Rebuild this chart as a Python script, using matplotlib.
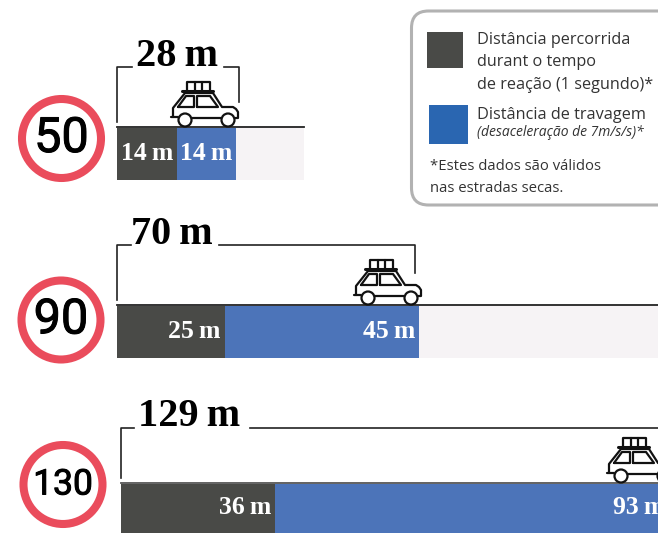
import matplotlib
matplotlib.use("Agg")
import matplotlib.pyplot as plt
import matplotlib.patheffects as pe
from matplotlib.patches import Circle, FancyBboxPatch, Rectangle

# values
speeds = ["50", "90", "130"]
reaction_m = [14, 25, 36]
braking_m = [14, 45, 93]
total_m = [28, 70, 129]

DARK = "#494a47"
BLUE = "#4c74b9"
PALE = "#f6f3f5"
RED = "#ea4c5c"
SERIF = "Liberation Serif"
SANS = "Open Sans"

# layout of each row, in pixels
scale = [4.25, 4.31, 4.28]  # px per metre
bar_x0 = [117, 117, 121]
ground_y = [127, 305, 483]
bar_h = [52, 52, 60]
ground_col = ["#222222", "#222222", "#555555"]
pale_end = [304, 658, 658]
sign_xy = [(61.5, 138.5), (61, 320), (63, 484.5)]
sign_size = [35, 35, 25.5]
bracket_top = [67, 245, 428]
bracket_gap = [(132, 224), (131, 219), (134, 250)]
bracket_right = [239, 415, 700]
bracket_low = [102, 273, 500]
title_x = [177, 172, 189]
title_y = [57, 234, 417]
label_end = [None, 220, 271]
label2_end = [None, 415, 665]
car_left = [171, 354, 607]


def draw_car(ax, left, ground):
    # car outline, drawn relative to its left end and the road
    lw = 1.6
    col = "#111111"
    def line(xs, ys, w=lw):
        ax.plot([left + v for v in xs], [ground + v for v in ys], color=col, lw=w,
                solid_capstyle="round", solid_joinstyle="round", zorder=6)
    # body
    ax.fill([left + v for v in [2, 2, 14, 42, 51, 62, 67, 67, 2]],
            [ground + v for v in [-10, -19, -34, -34, -20, -20, -15, -9, -9]],
            color="white", zorder=5)
    line([2, 2, 14, 42, 51, 62, 65, 67, 67, 64], [-10, -19, -34, -34, -20, -20, -18, -15, -9, -9])
    line([0, 7], [-10, -10])
    line([20, 50], [-9, -9])
    # windows
    line([7, 15, 23, 23, 7], [-20, -31, -31, -20, -20])
    line([26, 26, 39, 47, 26], [-20, -31, -31, -20, -20])
    # roof rack and luggage
    line([11, 42], [-36, -36], 2.2)
    line([16, 16, 39, 39], [-36, -45, -45, -36])
    line([23.5, 23.5], [-45, -36])
    line([31, 31], [-45, -36])
    # wheels
    for cx in [14, 57]:
        ax.add_patch(Circle((left + cx, ground - 7), 6.5, fc="white", ec=col, lw=lw, zorder=7))


fig = plt.figure(figsize=(6.58, 5.33), dpi=100)
ax = fig.add_axes([0, 0, 1, 1])
ax.set_xlim(0, 658)
ax.set_ylim(533, 0)
ax.axis("off")

for i, speed in enumerate(speeds):
    x0 = bar_x0[i]
    g = ground_y[i]
    h = bar_h[i]
    mid = g + 1 + h / 2
    r_w = reaction_m[i] * scale[i]
    b_w = braking_m[i] * scale[i]

    ax.barh(mid, pale_end[i] - x0, left=x0, height=h, color=PALE, zorder=1)
    ax.barh(mid, r_w, left=x0, height=h, color=DARK, zorder=2)
    ax.barh(mid, b_w, left=x0 + r_w, height=h, color=BLUE, zorder=2)
    ax.plot([x0, pale_end[i]], [g, g], color=ground_col[i], lw=1.3, zorder=3)

    # speed sign, regular weight with a thin stroke to thicken it a bit
    ax.add_patch(Circle(sign_xy[i], 39.5, fc="white", ec=RED, lw=5.8, zorder=3))
    ax.text(sign_xy[i][0], sign_xy[i][1] + 0.5, speed, family="Roboto",
            fontsize=sign_size[i], ha="center", va="center", color="black", zorder=4,
            path_effects=[pe.withStroke(linewidth=0.7, foreground="black")])

    # bracket with the total
    top = bracket_top[i]
    gap = bracket_gap[i]
    ax.plot([x0, x0, gap[0]], [g - 5, top, top], color="#222222", lw=1.2, zorder=3)
    ax.plot([gap[1], bracket_right[i], bracket_right[i]], [top, top, bracket_low[i]],
            color="#222222", lw=1.2, zorder=3)
    ax.text(title_x[i], title_y[i], f"{total_m[i]}\u2009m", family=SERIF, weight="bold", fontsize=29,
            ha="center", va="center", color="black", zorder=4)

    # labels inside the bars
    r_txt = f"{reaction_m[i]}\u2009m"
    b_txt = f"{braking_m[i]}\u2009m"
    if label_end[i] is None:
        ax.text(x0 + r_w / 2, mid - 1, r_txt, family=SERIF, weight="bold", fontsize=18.5, color="white",
                ha="center", va="center", zorder=4)
        ax.text(x0 + r_w + b_w / 2, mid - 1, b_txt, family=SERIF, weight="bold", fontsize=18.5, color="white",
                ha="center", va="center", zorder=4)
    else:
        label_y = mid - 1 if i == 1 else g + 24
        ax.text(label_end[i], label_y, r_txt, family=SERIF, weight="bold", fontsize=18.5,
                color="white", ha="right", va="center", zorder=4)
        # the reference cuts this one off at the right edge too
        ax.text(label2_end[i], label_y, b_txt, family=SERIF, weight="bold", fontsize=18.5,
                color="white", ha="right", va="center", zorder=4, clip_on=True)

    draw_car(ax, car_left[i], g)

# legend box
ax.add_patch(FancyBboxPatch((411.5, 11), 320, 194, boxstyle="round,pad=0,rounding_size=17",
                            fc="white", ec="#b2b2b2", lw=2.2, zorder=1))
ax.add_patch(Rectangle((427, 32), 36, 36, fc=DARK, ec="none", zorder=2))
ax.add_patch(Rectangle((429, 105), 39, 39, fc="#2a66b1", ec="none", zorder=2))

legend_lines = ["Distância percorrida", "durant o tempo", "de reação (1 segundo)*", "Distância de travagem"]
legend_line_y = [40, 62, 85, 115]
for s, y in zip(legend_lines, legend_line_y):
    ax.text(477, y, s, family=SANS, fontsize=11.7, color="#333333", va="center", zorder=3)
ax.text(477, 133, "(desaceleração de 7m/s/s)*", family=SANS, style="italic", fontsize=10,
        color="#333333", va="center", zorder=3)
ax.text(430, 167, "*Estes dados são válidos", family=SANS, fontsize=10.7, color="#333333", va="center", zorder=3)
ax.text(430, 188, "nas estradas secas.", family=SANS, fontsize=10.7, color="#333333", va="center", zorder=3)

fig.savefig("out.png", dpi=100)
